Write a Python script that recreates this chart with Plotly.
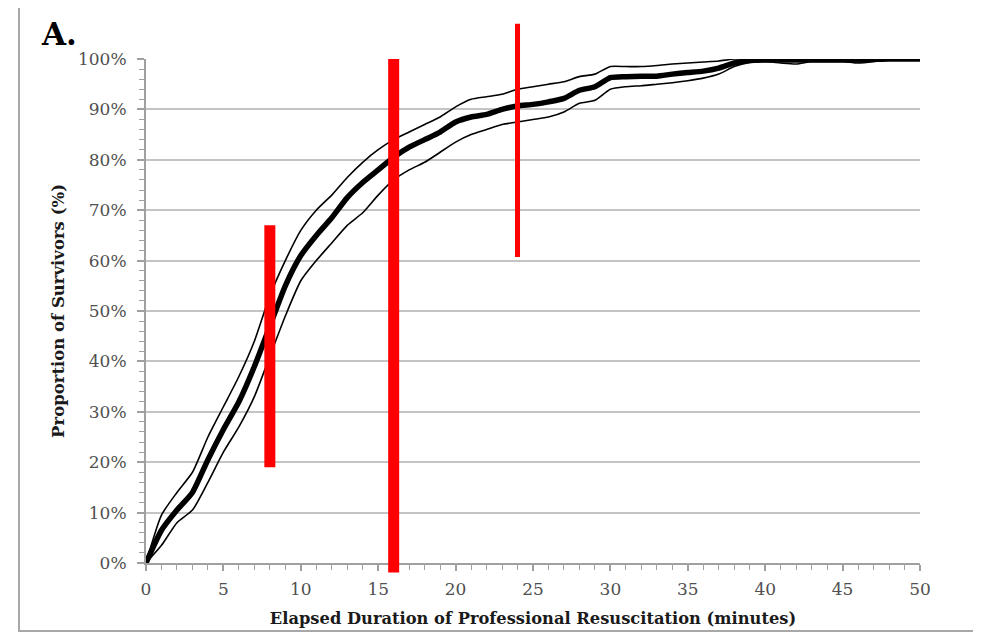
import plotly.graph_objects as go

# ---------------- data ----------------
minutes = list(range(0, 51))

survival = [0, 6.5, 10.5, 14, 20.5, 26.5, 32, 39, 47, 55, 61, 65, 68.5, 72.5, 75.5, 78,
            80.5, 82.5, 84, 85.5, 87.5, 88.5, 89, 90, 90.7, 91, 91.5, 92.2, 93.8, 94.5,
            96.3, 96.5, 96.6, 96.6, 97, 97.3, 97.6, 98.2, 99.2, 99.7, 99.8, 99.8, 99.8,
            99.8, 99.8, 99.8, 99.8, 99.9, 100, 100, 100]

upper_ci = [0, 9.5, 14, 18, 25, 31, 37, 44, 53, 60, 66, 70, 73, 76.5, 79.5, 82, 84, 85.5,
            87, 88.5, 90.5, 92, 92.5, 93, 94, 94.5, 95, 95.5, 96.5, 97, 98.5, 98.5, 98.5,
            98.7, 99, 99.2, 99.4, 99.6, 100, 100, 100, 100, 100, 100, 100, 100, 100, 100,
            100, 100, 100]

lower_ci = [0, 3.5, 8, 10.5, 16, 22, 27, 33, 41, 49, 56, 60, 63.5, 67, 69.5, 73, 76, 78,
            79.5, 81.5, 83.5, 85, 86, 87, 87.5, 88, 88.5, 89.5, 91.2, 91.8, 94, 94.5, 94.7,
            95, 95.3, 95.7, 96.2, 97, 98.5, 99.3, 99.5, 99.2, 99, 99.5, 99.5, 99.5, 99.2,
            99.5, 100, 100, 100]

marker_minutes = [8, 16, 24]          # red bar positions (minutes)
marker_low = [19, -1.9, 60.7]         # % (bottom of red bar)
marker_high = [67, 100, 107]          # % (top of red bar)

x_ticks = [0, 5, 10, 15, 20, 25, 30, 35, 40, 45, 50]
y_ticks = [0, 10, 20, 30, 40, 50, 60, 70, 80, 90, 100]
y_tick_labels = [f"{v}%" for v in y_ticks]

# ---------------- styles ----------------
marker_widths = [11, 11, 5]
FONT = "DejaVu Serif"
GRAY = "#505050"
GRID = "#C4C4C4"

# page offset of 8px (body margin) is compensated in the margins below
ML, MR, MT, MB = 138, 61, 51, 70
W, H = 973, 625
PW = W - ML - MR
PH = H - MT - MB

fig = go.Figure()

for ys, w in [(upper_ci, 1.6), (lower_ci, 1.6), (survival, 5.5)]:
    fig.add_trace(go.Scatter(
        x=minutes, y=ys, mode="lines",
        line=dict(color="black", width=w, shape="spline", smoothing=0.6),
        showlegend=False, hoverinfo="skip"))

Y_MIN, Y_MAX = 0, 100
for xm, lo, hi, w in zip(marker_minutes, marker_low, marker_high, marker_widths):
    fig.add_shape(type="line", xref="x", yref="y domain",
                  x0=xm, x1=xm,
                  y0=(lo - Y_MIN) / (Y_MAX - Y_MIN), y1=(hi - Y_MIN) / (Y_MAX - Y_MIN),
                  line=dict(color="#FF0000", width=w), layer="above")

# outer frame (figure pixel coords converted to paper fractions)
def px_x(px):
    return (px - ML) / PW

def px_y(py):
    return (MT + PH - py) / PH

fig.add_shape(type="rect", xref="paper", yref="paper",
              x0=px_x(11), x1=px_x(990),
              y0=px_y(623), y1=px_y(-4),
              line=dict(color="#A8A8A8", width=2), fillcolor="rgba(0,0,0,0)", layer="below")

fig.add_annotation(text="<b>A.</b>", xref="paper", yref="paper",
                   x=px_x(31), y=px_y(26), xanchor="left", yanchor="middle",
                   showarrow=False, font=dict(family=FONT, size=31, color="black"))

fig.update_layout(
    width=W, height=H,
    margin=dict(l=ML, r=MR, t=MT, b=MB, autoexpand=False),
    paper_bgcolor="white", plot_bgcolor="white",
    font=dict(family=FONT, color=GRAY, size=15),
    xaxis=dict(
        range=[0, 50], tickvals=x_ticks, ticktext=[str(v) for v in x_ticks],
        showgrid=False, zeroline=False, automargin=False,
        showline=True, linecolor="#A0A0A0", linewidth=2,
        ticks="outside", ticklen=6, tickcolor="#A0A0A0", tickwidth=1.5,
        minor=dict(dtick=1, ticks="outside", ticklen=5, tickcolor="#A0A0A0", tickwidth=1),
        tickfont=dict(family=FONT, size=17, color=GRAY),
        ticklabelstandoff=4,
        title=dict(text="<b>Elapsed Duration of Professional Resuscitation (minutes)</b>",
                   font=dict(family=FONT, size=16.3, color="#1a1a1a"), standoff=14),
    ),
    yaxis=dict(
        range=[Y_MIN, Y_MAX], tickvals=y_ticks, ticktext=y_tick_labels,
        showgrid=True, gridcolor=GRID, gridwidth=2, zeroline=False, automargin=False,
        showline=True, linecolor="#A0A0A0", linewidth=2,
        ticks="outside", ticklen=7, tickcolor="#A0A0A0", tickwidth=1.5,
        minor=dict(dtick=2, ticks="outside", ticklen=5, tickcolor="#A0A0A0", tickwidth=1,
                   showgrid=False),
        tickfont=dict(family=FONT, size=17, color=GRAY),
        ticklabelstandoff=7,
        title=dict(text="<b>Proportion of Survivors (%)</b>",
                   font=dict(family=FONT, size=16.5, color="#1a1a1a"), standoff=9),
    ),
)

fig.write_html("out.html")
